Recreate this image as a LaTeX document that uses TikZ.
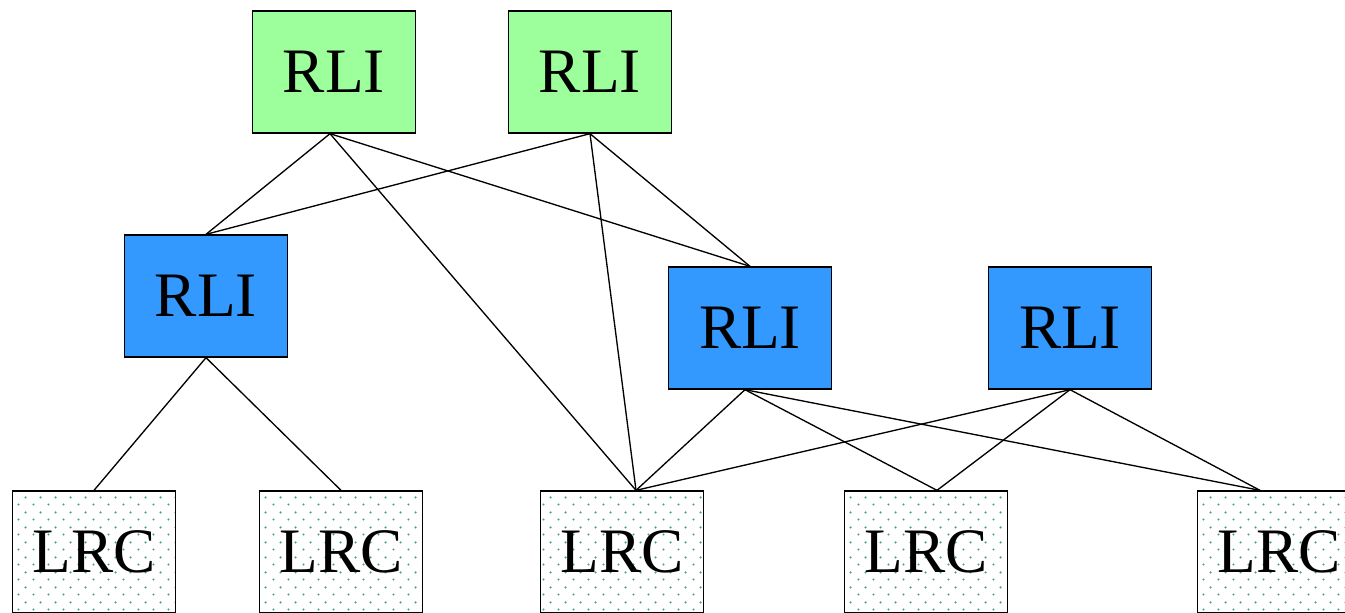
\documentclass[tikz,border=0pt]{standalone}
\usepackage{fontspec}
\setmainfont{Liberation Serif}
\usetikzlibrary{patterns.meta}

\definecolor{rligreen}{RGB}{156,255,156}
\definecolor{rliblue}{RGB}{51,153,255}
\definecolor{dotgreen}{RGB}{70,165,120}

\tikzdeclarepattern{
  name=lrcdots,
  type=colored,
  bounding box={(0pt,0pt) and (11.25pt,11.25pt)},
  tile size={(11.25pt,11.25pt)},
  code={
    \fill[dotgreen] (2.8pt,2.8pt) circle [radius=0.95pt];
    \fill[dotgreen] (8.4pt,8.4pt) circle [radius=0.95pt];
  }
}

\tikzset{
  box/.style={draw,line width=1pt,minimum width=122pt,minimum height=91.5pt,
    inner sep=0pt,font=\fontsize{47.5}{50}\selectfont},
  rlitop/.style={box,fill=rligreen},
  rlimid/.style={box,fill=rliblue},
  lrcbox/.style={box,preaction={fill=white},pattern=lrcdots},
  link/.style={line width=1pt}
}

\begin{document}
\begin{tikzpicture}[x=0.75pt,y=-0.75pt]
	\useasboundingbox (0,0) rectangle (1345,612);
	
	\node[rlitop] (top1) at (334,72) {RLI};
	\node[rlitop] (top2) at (590,72) {RLI};
	
	\node[rlimid] (mid1) at (206,296) {RLI};
	\node[rlimid] (mid2) at (750,328) {RLI};
	\node[rlimid] (mid3) at (1070,328) {RLI};
	
	\node[lrcbox] (lrc1) at (94,552) {LRC};
	\node[lrcbox] (lrc2) at (341,552) {LRC};
	\node[lrcbox] (lrc3) at (622,552) {LRC};
	\node[lrcbox] (lrc4) at (926,552) {LRC};
	\node[lrcbox] (lrc5) at (1279,552) {LRC};
	
	\coordinate (top1s) at ([xshift=-3pt]top1.south);
	\coordinate (mid2s) at ([xshift=-3.75pt]mid2.south);
	\coordinate (lrc3n) at ([xshift=10.5pt]lrc3.north);
	\coordinate (lrc4n) at ([xshift=8.25pt]lrc4.north);
	\coordinate (lrc5n) at ([xshift=-14.25pt]lrc5.north);
	
	\draw[link] (top1s)--(mid1.north);
	\draw[link] (top1s)--(lrc3n);
	\draw[link] (top1s)--(mid2.north);
	\draw[link] (top2.south)--(mid1.north);
	\draw[link] (top2.south)--(lrc3n);
	\draw[link] (top2.south)--(mid2.north);
	
	\draw[link] (mid1.south)--(lrc1.north);
	\draw[link] (mid1.south)--(lrc2.north);
	\draw[link] (mid2s)--(lrc3n);
	\draw[link] (mid2s)--(lrc4n);
	\draw[link] (mid2s)--(lrc5n);
	\draw[link] (mid3.south)--(lrc3n);
	\draw[link] (mid3.south)--(lrc4n);
	\draw[link] (mid3.south)--(lrc5n);
	
\end{tikzpicture}
\end{document}
